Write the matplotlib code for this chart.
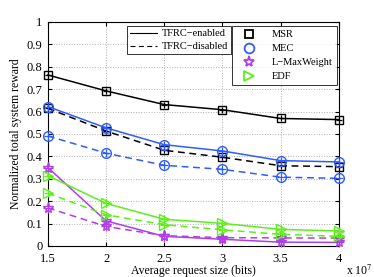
import matplotlib
matplotlib.use("Agg")
import matplotlib.pyplot as plt
from matplotlib.lines import Line2D
import numpy as np

plt.rcParams['font.family'] = ['Liberation Serif', 'DejaVu Serif']
plt.rcParams['mathtext.fontset'] = 'stix'

x = [1.5, 2.0, 2.5, 3.0, 3.5, 4.0]

msr_on = [0.763, 0.692, 0.631, 0.608, 0.569, 0.564]
msr_off = [0.614, 0.513, 0.427, 0.396, 0.358, 0.354]
mec_on = [0.622, 0.527, 0.452, 0.424, 0.381, 0.375]
mec_off = [0.491, 0.414, 0.360, 0.342, 0.307, 0.302]
lmw_on = [0.350, 0.112, 0.043, 0.030, 0.017, 0.016]
lmw_off = [0.170, 0.087, 0.046, 0.037, 0.036, 0.035]
edf_on = [0.314, 0.190, 0.119, 0.101, 0.074, 0.067]
edf_off = [0.235, 0.139, 0.095, 0.072, 0.052, 0.043]

names = ['MSR', 'MEC', 'L\u2212MaxWeight', 'EDF']
colors = ['black', '#2f5cff', '#b03ee8', '#5cf01a']
markers = ['s', 'o', '*', '>']
sizes = [6, 7, 8, 7]

fig = plt.figure(figsize=(3.74, 2.77), dpi=100)
ax = fig.add_axes([0.128, 0.112, 0.778, 0.809])

series = [(msr_on, msr_off), (mec_on, mec_off), (lmw_on, lmw_off), (edf_on, edf_off)]
for (on, off), c, m, s in zip(series, colors, markers, sizes):
    ax.plot(x, on, '-', color=c, lw=1.1, marker=m, ms=s,
            mfc='none', mec=c, mew=1.0, zorder=3, clip_on=False)
    ax.plot(x, off, '--', dashes=(4.5, 3), color=c, lw=1.1, marker=m, ms=s,
            mfc='none', mec=c, mew=1.0, zorder=3, clip_on=False)
    # the '+' drawn inside each marker
    for vals in (on, off):
        ax.plot(x, vals, ls='none', marker='+', ms=s - 1, mec=c, mew=0.9,
                zorder=3, clip_on=False)

ax.set_xlim(1.5, 4)
ax.set_ylim(0, 1)
ax.set_xticks(x)
ax.set_xticklabels(['1.5', '2', '2.5', '3', '3.5', '4'])
ax.set_yticks(np.arange(0, 1.01, 0.1))
ax.set_yticklabels(['0', '0.1', '0.2', '0.3', '0.4', '0.5', '0.6', '0.7', '0.8', '0.9', '1'])
ax.tick_params(direction='in', top=True, right=True, labelsize=9, length=3)
ax.tick_params(axis='x', pad=5)
ax.tick_params(axis='y', pad=4)
ax.grid(True, ls=':', color='#b0b0b0', lw=0.7)
for sp in ax.spines.values():
    sp.set_linewidth(0.8)

ax.set_xlabel('Average request size (bits)', fontsize=8.5, labelpad=0)
ax.set_ylabel('Normalized total system reward', fontsize=8.5, labelpad=3)
fig.text(0.96, 0.008, r'x 10$^7$', fontsize=8.5, ha='center')

style_handles = [Line2D([], [], color='black', lw=0.8, ls='-'),
                 Line2D([], [], color='black', lw=0.8, ls='--', dashes=(4.5, 3))]
leg1 = ax.legend(style_handles, ['TFRC\u2212enabled', 'TFRC\u2212disabled'],
                 loc='upper left', bbox_to_anchor=(0.272, 0.982), fontsize=7.5,
                 frameon=True, fancybox=False, edgecolor='black',
                 handlelength=2.6, borderpad=0.3, labelspacing=0.35, handletextpad=0.4,
                 borderaxespad=0)
leg1.get_frame().set_linewidth(0.7)
ax.add_artist(leg1)

alg_handles = [Line2D([], [], ls='none', marker=m, ms=s, mfc='none', mec=c, mew=1.3)
               for c, m, s in zip(colors, markers, sizes)]
leg2 = ax.legend(alg_handles, names, loc='upper right', bbox_to_anchor=(0.993, 0.982),
                 fontsize=7.5, frameon=True, fancybox=False, edgecolor='black',
                 handlelength=2.4, borderpad=0.4, labelspacing=0.45, handletextpad=1.0,
                 borderaxespad=0)
leg2.get_frame().set_linewidth(0.7)

fig.savefig('out.png', dpi=100)
